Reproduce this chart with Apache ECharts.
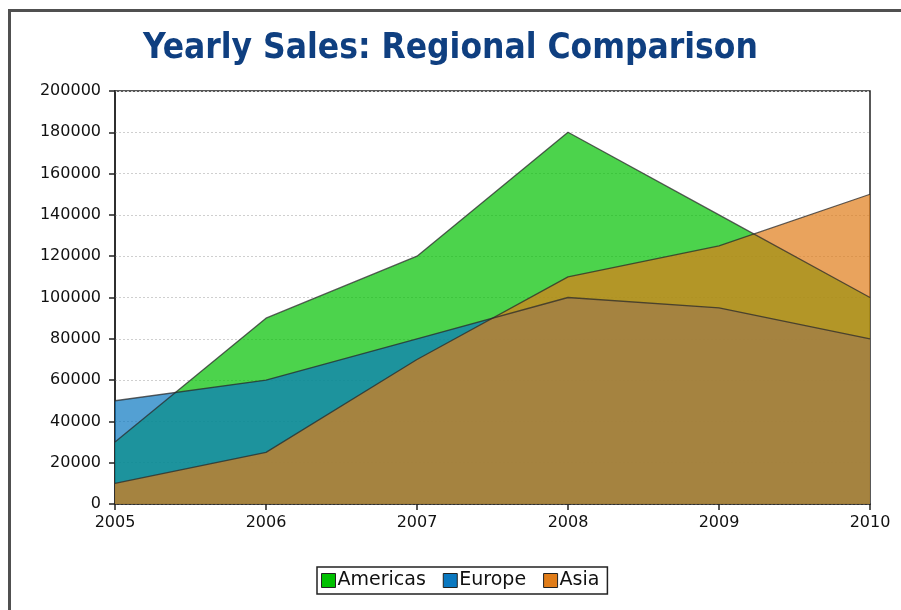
<!DOCTYPE html>
<html>
<head>
<meta charset="utf-8">
<script src="https://cdn.jsdelivr.net/npm/echarts@6/dist/echarts.min.js"></script>
<style>
  html, body { margin: 0; padding: 0; background: #fff; }
  #chart { width: 901px; height: 610px; }
</style>
</head>
<body>
<div id="chart"></div>
<script>
// Yearly sales per region
const years = ['2005', '2006', '2007', '2008', '2009', '2010'];
const americas = [30000, 90000, 120000, 180000, 140000, 100000];
const europe = [50000, 60000, 80000, 100000, 95000, 80000];
const asia = [10000, 25000, 70000, 110000, 125000, 150000];
const yTicks = { min: 0, max: 200000, step: 20000 };

const regionColors = { Americas: '#00c000', Europe: '#0a78c0', Asia: '#e07c18' };
const fontFamily = 'DejaVu Sans, sans-serif';

const chart = echarts.init(document.getElementById('chart'), null, { renderer: 'canvas' });

function areaSeries(name, data) {
  return {
    name: name,
    type: 'line',
    data: data,
    symbol: 'none',
    color: regionColors[name],
    lineStyle: { color: '#2a2a2a', width: 1.3, opacity: 0.75 },
    areaStyle: { color: regionColors[name], opacity: 0.7 },
    emphasis: { disabled: true }
  };
}

chart.setOption({
  animation: false,
  backgroundColor: '#fff',
  title: {
    text: 'Yearly Sales: Regional Comparison',
    left: 'center',
    top: 26,
    textStyle: { color: '#0f3f80', fontSize: 35, fontWeight: 'bold', fontFamily: 'DejaVu Sans Condensed, DejaVu Sans, sans-serif' }
  },
  graphic: [{
    type: 'rect',
    shape: { x: 9.5, y: 10.5, width: 1000, height: 1000 },
    style: { fill: 'none', stroke: '#505050', lineWidth: 3 },
    silent: true
  }],
  grid: {
    left: 115, right: 31, top: 91, bottom: 106,
    show: true, borderColor: '#222', borderWidth: 1.5, backgroundColor: 'transparent'
  },
  legend: {
    bottom: 16,
    left: 317,
    itemWidth: 14,
    itemHeight: 14,
    itemGap: 17,
    icon: 'rect',
    borderColor: '#222',
    borderWidth: 1.5,
    padding: [4, 8, 4, 4],
    textStyle: { fontSize: 19, color: '#111', fontFamily: fontFamily, padding: [0, 0, 0, -3] },
    data: ['Americas', 'Europe', 'Asia'].map(n => ({
      name: n,
      itemStyle: { color: regionColors[n], borderColor: '#222', borderWidth: 1, opacity: 1 }
    }))
  },
  xAxis: {
    type: 'category',
    data: years,
    boundaryGap: false,
    axisLine: { lineStyle: { color: '#222', width: 1.5 } },
    axisTick: { show: true, length: 6, alignWithLabel: true, lineStyle: { color: '#222', width: 1.5 } },
    axisLabel: { color: '#111', fontSize: 16, fontFamily: fontFamily, margin: 11 },
    splitLine: { show: false }
  },
  yAxis: {
    type: 'value',
    min: yTicks.min,
    max: yTicks.max,
    interval: yTicks.step,
    axisLine: { show: true, lineStyle: { color: '#222', width: 1.5 } },
    axisTick: { show: true, length: 6, lineStyle: { color: '#222', width: 1.5 } },
    axisLabel: { color: '#111', fontSize: 16, fontFamily: fontFamily, margin: 14, formatter: v => String(v) },
    splitLine: { show: true, lineStyle: { color: '#cfcfcf', type: [2, 2], width: 1 } }
  },
  series: [
    areaSeries('Americas', americas),
    areaSeries('Europe', europe),
    areaSeries('Asia', asia)
  ]
});
</script>
</body>
</html>
